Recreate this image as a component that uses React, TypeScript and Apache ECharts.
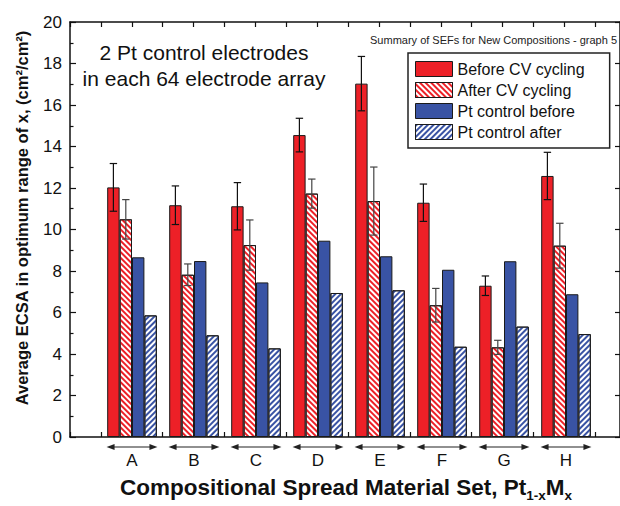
import React, { useEffect, useRef } from "react";
import * as echarts from "echarts";

const FONT = "'Liberation Sans', Arial, Helvetica, sans-serif";

const categories = ["A", "B", "C", "D", "E", "F", "G", "H"];
const seriesNames = ["Before CV cycling", "After CV cycling", "Pt control before", "Pt control after"];
const beforeCV = [12.03, 11.17, 11.12, 14.55, 17.03, 11.29, 7.29, 12.58];
const beforeCVErr = [1.15, 0.93, 1.14, 0.81, 1.31, 0.9, 0.47, 1.14];
const afterCV = [10.49, 7.82, 9.25, 11.73, 11.37, 6.35, 4.32, 9.22];
const afterCVErr = [0.95, 0.52, 1.21, 0.7, 1.64, 0.81, 0.34, 1.08];
const ptBefore = [8.66, 8.48, 7.45, 9.46, 8.71, 8.06, 8.47, 6.88];
const ptAfter = [5.86, 4.9, 4.27, 6.94, 7.07, 4.35, 5.32, 4.96];

const RED = "#ED2027";
const BLUE = "#3953A4";

export default function App() {
  const ref = useRef<HTMLDivElement>(null);
  useEffect(() => {
    const chart = echarts.init(ref.current!, null, { renderer: "svg" });

    const errData = [
      ...beforeCV.map((v, i) => [i, v, beforeCVErr[i], 0]),
      ...afterCV.map((v, i) => [i, v, afterCVErr[i], 1]),
    ];
    const arrowData = categories.map((_, i) => [i, 0]);

    const barBorder = { borderColor: "#1a1a1a", borderWidth: 1 };
    const hatch = (color: string, rot: number) => ({
      symbol: "rect",
      symbolSize: 1,
      color,
      dashArrayX: [1, 0],
      dashArrayY: [1.5, 1.5],
      rotation: rot,
    });

    const frameAxisCommon = {
      gridIndex: 0,
      type: "value",
      min: -0.5,
      max: 8.4,
      interval: 0.5,
      axisLine: { show: true, onZero: false, lineStyle: { color: "#111", width: 1.5 } },
      axisTick: { show: true, inside: true, length: 5, lineStyle: { color: "#111", width: 1.2 } },
      axisLabel: { show: false },
      splitLine: { show: false },
    };

    const option: any = {
      animation: false,
      backgroundColor: "#fff",
      textStyle: { fontFamily: FONT },
      title: {
        text: "Summary of SEFs for New Compositions - graph 5",
        right: 3,
        top: 34,
        padding: 0,
        textStyle: { fontSize: 11, fontWeight: "normal", color: "#222", fontFamily: FONT },
      },
      legend: {
        orient: "vertical",
        left: 408,
        top: 53,
        data: seriesNames,
        icon: "rect",
        itemWidth: 37,
        itemHeight: 15,
        itemGap: 5,
        padding: [8, 25, 8, 7],
        borderColor: "#222",
        borderWidth: 1.5,
        borderRadius: 0,
        backgroundColor: "#fff",
        textStyle: { fontSize: 16, color: "#111", fontFamily: FONT },
        itemStyle: { borderColor: "#1a1a1a", borderWidth: 1 },
        selectedMode: false,
      },
      grid: [
        { left: 70, right: -2, top: 22, bottom: 69 },
        { left: 101, width: 496, top: 22, bottom: 69 },
      ],
      xAxis: [
        { ...frameAxisCommon, position: "bottom" },
        { ...frameAxisCommon, position: "top" },
        {
          gridIndex: 1,
          type: "category",
          data: categories,
          axisLine: { show: false },
          axisTick: { show: false },
          axisLabel: { show: true, margin: 15, fontSize: 17, color: "#111", fontFamily: FONT },
          splitLine: { show: false },
        },
      ],
      yAxis: [
        {
          gridIndex: 0,
          type: "value",
          min: 0,
          max: 20,
          interval: 2,
          position: "left",
          axisLine: { show: true, onZero: false, lineStyle: { color: "#111", width: 1.5 } },
          axisTick: { show: true, inside: true, length: 6, lineStyle: { color: "#111", width: 1.2 } },
          minorTick: { show: true, splitNumber: 2, length: 3.5, lineStyle: { color: "#111", width: 1.2 } },
          axisLabel: { show: true, fontSize: 17, color: "#111", margin: 8, fontFamily: FONT },
          splitLine: { show: false },
        },
        {
          gridIndex: 0,
          type: "value",
          min: 0,
          max: 20,
          interval: 2,
          position: "right",
          axisLine: { show: true, onZero: false, lineStyle: { color: "#111", width: 1.5 } },
          axisTick: { show: true, inside: true, length: 5, lineStyle: { color: "#111", width: 1.2 } },
          axisLabel: { show: false },
          splitLine: { show: false },
        },
        {
          gridIndex: 1,
          type: "value",
          min: 0,
          max: 20,
          show: false,
        },
      ],
      graphic: [
        {
          type: "text",
          x: 204,
          y: 65,
          style: {
            text: "2 Pt control electrodes\nin each 64 electrode array",
            textAlign: "center",
            textVerticalAlign: "middle",
            fontSize: 21,
            lineHeight: 26,
            fontFamily: FONT,
            fill: "#111",
          },
        },
        {
          type: "text",
          x: 22,
          y: 218,
          rotation: Math.PI / 2,
          style: {
            text: "Average ECSA in optimum range of x, (cm²/cm²)",
            textAlign: "center",
            textVerticalAlign: "middle",
            fontSize: 16.5,
            fontWeight: "bold",
            fontFamily: FONT,
            fill: "#111",
          },
        },
        {
          type: "text",
          x: 346,
          y: 487,
          style: {
            text: "{m|Compositional Spread Material Set, Pt}{s|1-x}{m|M}{s|x}",
            textAlign: "center",
            textVerticalAlign: "middle",
            fill: "#111",
            rich: {
              m: { fontSize: 22.5, fontWeight: "bold", fontFamily: FONT, lineHeight: 30, fill: "#111" },
              s: { fontSize: 13.5, fontWeight: "bold", fontFamily: FONT, lineHeight: 13, verticalAlign: "bottom", fill: "#111" },
            },
          },
        },
      ],
      series: [
        {
          name: seriesNames[0],
          type: "bar",
          xAxisIndex: 2,
          yAxisIndex: 2,
          data: beforeCV,
          barGap: "0%",
          barCategoryGap: "20%",
          itemStyle: { color: RED, ...barBorder },
        },
        {
          name: seriesNames[1],
          type: "bar",
          xAxisIndex: 2,
          yAxisIndex: 2,
          data: afterCV,
          barGap: "0%",
          barCategoryGap: "20%",
          itemStyle: { color: "#fff", ...barBorder, decal: hatch(RED, Math.PI / 4) },
        },
        {
          name: seriesNames[2],
          type: "bar",
          xAxisIndex: 2,
          yAxisIndex: 2,
          data: ptBefore,
          barGap: "0%",
          barCategoryGap: "20%",
          itemStyle: { color: BLUE, ...barBorder },
        },
        {
          name: seriesNames[3],
          type: "bar",
          xAxisIndex: 2,
          yAxisIndex: 2,
          data: ptAfter,
          barGap: "0%",
          barCategoryGap: "20%",
          itemStyle: { color: "#fff", ...barBorder, decal: hatch(BLUE, -Math.PI / 4) },
        },
        {
          name: "errors",
          type: "custom",
          xAxisIndex: 2,
          yAxisIndex: 2,
          z: 5,
          clip: false,
          silent: true,
          data: errData,
          renderItem: (params: any, api: any) => {
            const idx = api.value(0);
            const v = api.value(1);
            const e = api.value(2);
            const slot = api.value(3);
            const band = api.size([1, 0])[0];
            const barW = (band * 0.8) / 4;
            const c = api.coord([idx, v]);
            const x = c[0] + (slot - 1.5) * barW;
            const yTop = api.coord([idx, v + e])[1];
            const yBot = api.coord([idx, v - e])[1];
            const cap = 3.7;
            const style = { stroke: slot === 0 ? "#111" : "#444", lineWidth: 1.2 };
            return {
              type: "group",
              children: [
                { type: "line", shape: { x1: x, y1: yTop, x2: x, y2: yBot }, style },
                { type: "line", shape: { x1: x - cap, y1: yTop, x2: x + cap, y2: yTop }, style },
                { type: "line", shape: { x1: x - cap, y1: yBot, x2: x + cap, y2: yBot }, style },
              ],
            };
          },
        },
        {
          name: "arrows",
          type: "custom",
          xAxisIndex: 2,
          yAxisIndex: 2,
          z: 5,
          clip: false,
          silent: true,
          data: arrowData,
          renderItem: (params: any, api: any) => {
            const idx = api.value(0);
            const band = api.size([1, 0])[0];
            const c = api.coord([idx, 0]);
            const y = c[1] + 10;
            const half = band * 0.41;
            const x1 = c[0] - half;
            const x2 = c[0] + half;
            const ah = 8;
            const aw = 3;
            return {
              type: "group",
              children: [
                { type: "line", shape: { x1: x1 + ah - 1, y1: y, x2: x2 - ah + 1, y2: y }, style: { stroke: "#222", lineWidth: 1.2 } },
                { type: "polygon", shape: { points: [[x1, y], [x1 + ah, y - aw], [x1 + ah, y + aw]] }, style: { fill: "#222" } },
                { type: "polygon", shape: { points: [[x2, y], [x2 - ah, y - aw], [x2 - ah, y + aw]] }, style: { fill: "#222" } },
              ],
            };
          },
        },
      ],
    };

    chart.setOption(option);
    return () => chart.dispose();
  }, []);

  return (
    <div
      ref={ref}
      style={{ position: "fixed", left: 0, top: 0, width: 620, height: 506, background: "#fff" }}
    />
  );
}
